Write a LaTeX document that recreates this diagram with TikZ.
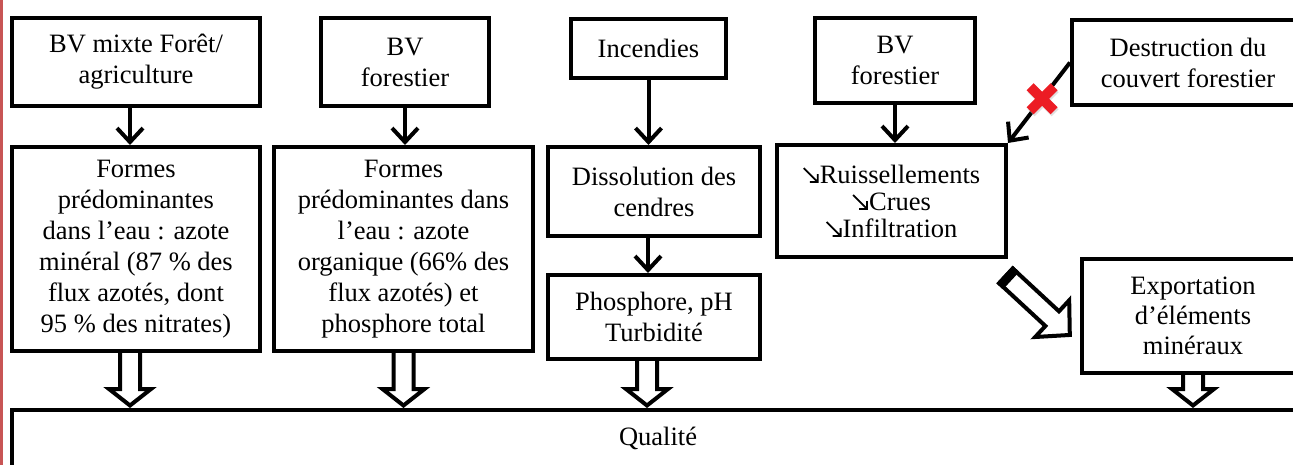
\documentclass[tikz,border=0pt]{standalone}
\usepackage{fontspec}
\setmainfont{Liberation Serif}
\usetikzlibrary{arrows.meta,calc}
\definecolor{redbar}{RGB}{200,85,85}
\definecolor{xred}{RGB}{236,28,36}
\tikzset{
  box/.style={draw, line width=4pt, align=center, inner sep=0pt,
    font=\fontsize{26.5}{31}\selectfont},
  thinarrow/.style={line width=4pt, -{Straight Barb[length=14pt,width=26pt]}},
  hollow/.style={line width=4pt, fill=white, line join=miter},
}
\newcommand\blockdown[2]{%
  \draw[hollow] let \p1=(#1), \p2=(#2) in
    (\x1-10pt,\y1) -- (\x1-10pt,\y2+19pt) -- (\x1-21pt,\y2+19pt) --
    (\x1,\y2+2.5pt) -- (\x1+21pt,\y2+19pt) -- (\x1+10pt,\y2+19pt) -- (\x1+10pt,\y1);}
% south-east arrow glyph with a corner-shaped head
\newcommand\arr{\begin{pgfpicture}%
  \pgfsetlinewidth{1.8pt}\pgfsetmiterjoin
  \pgfpathmoveto{\pgfpoint{1pt}{15pt}}\pgfpathlineto{\pgfpoint{15pt}{1pt}}%
  \pgfpathmoveto{\pgfpoint{15pt}{9pt}}\pgfpathlineto{\pgfpoint{15pt}{1pt}}\pgfpathlineto{\pgfpoint{7pt}{1pt}}%
  \pgfusepath{stroke}%
  \pgfpathrectangle{\pgfpoint{0pt}{0pt}}{\pgfpoint{17pt}{16pt}}\pgfusepath{use as bounding box}%
  \end{pgfpicture}}
\begin{document}
\begin{tikzpicture}[x=1pt,y=-1pt]
\useasboundingbox (0,0) rectangle (1293,465);
\clip (0,0) rectangle (1293,465);
\fill[redbar] (0,0) rectangle (3,465);

% top row
\node[box, minimum width=248pt, minimum height=88pt] (b1) at (136,62) {BV mixte Forêt/\\agriculture};
\node[box, minimum width=168pt, minimum height=88pt] (b2) at (405,62) {BV\\forestier};
\node[box, minimum width=155pt, minimum height=59pt] (inc) at (648.5,48.5) {Incendies};
\node[box, minimum width=160pt, minimum height=85pt] (b3) at (895,60.5) {BV\\forestier};
\node[box, minimum width=232pt, minimum height=85pt] (des) at (1188,62.5) {Destruction du\\couvert forestier};

% second row
\node[box, minimum width=248pt, minimum height=204pt] (f1) at (136,249)
  {Formes\\prédominantes\\dans l’eau : azote\\minéral (87 \% des\\flux azotés, dont\\95 \% des nitrates)};
\node[box, minimum width=259pt, minimum height=204pt] (f2) at (403.5,249)
  {Formes\\prédominantes dans\\l’eau : azote\\organique (66\% des\\flux azotés) et\\phosphore total};
\node[box, minimum width=212pt, minimum height=89pt] (dis) at (654,191.5) {Dissolution des\\cendres};
\node[box, minimum width=212pt, minimum height=84pt] (pho) at (654,317) {Phosphore, pH\\Turbidité};
\node[box, minimum width=229pt, minimum height=112pt, font=\fontsize{26.5}{27}\selectfont] (rui) at (891.5,201)
  {\arr Ruissellements\\\arr Crues\\\arr Infiltration};
\node[box, minimum width=222pt, minimum height=114pt, font=\fontsize{26.5}{30}\selectfont] (exp) at (1193,316) {Exportation\\d’éléments\\minéraux};

% bottom
\node[box, anchor=north west, minimum width=1292pt, text height=17pt, text depth=20pt, inner ysep=18pt]
  (q) at (10,408) {Qualité};

% thin arrows
\draw[thinarrow] ([xshift=-6pt]b1.south) -- ([xshift=-6pt]b1.south |- f1.north);
\draw[thinarrow] (b2.south) -- (b2.south |- f2.north);
\draw[thinarrow] (inc.south) -- (inc.south |- dis.north);
\draw[thinarrow] ([xshift=-6pt]dis.south) -- ([xshift=-6pt]dis.south |- pho.north);
\draw[thinarrow] (b3.south) -- (b3.south |- rui.north);
\draw[thinarrow] (des.west) -- (rui.north east) coordinate[pos=0.45] (xmark);
\begin{scope}[shift={(xmark)}]
  \draw[black!25, line width=10pt, opacity=0.5] (-11,-10) -- (13,14) (-11,14) -- (13,-10);
  \draw[xred, line width=10pt] (-12,-12) -- (12,12) (-12,12) -- (12,-12);
\end{scope}

% hollow block arrows
\blockdown{[xshift=-6pt]f1.south}{q.north}
\blockdown{f2.south}{q.north}
\blockdown{[xshift=-7pt]pho.south}{q.north}
\blockdown{exp.south}{q.north}

% diagonal block arrow
\coordinate (dtail) at (1004.5,274.5);
\begin{scope}[shift={(dtail)}, rotate=-42.8]
  \draw[hollow] (2,-10) -- (65,-10) -- (65,-25) -- (89,0) -- (65,25) -- (65,10) -- (2,10) -- cycle;
  \fill[black] (0,-12) rectangle (9,12);
\end{scope}
\end{tikzpicture}
\end{document}
